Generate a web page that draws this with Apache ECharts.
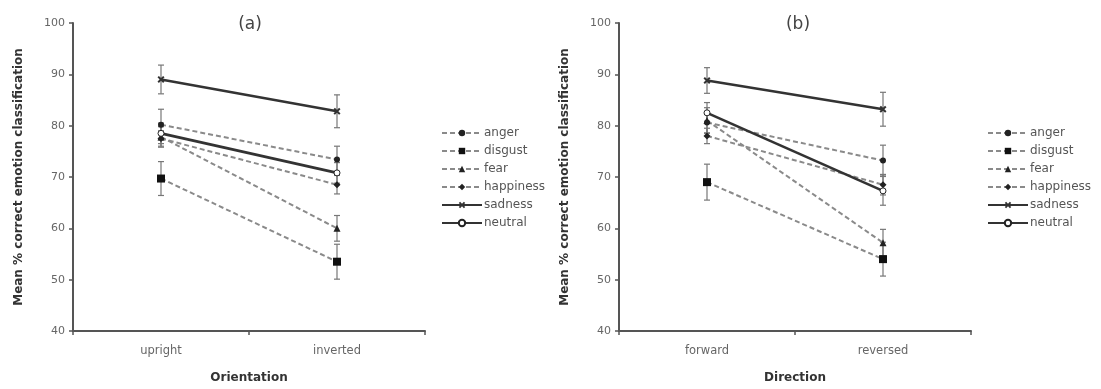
<!DOCTYPE html>
<html>
<head>
<meta charset="utf-8">
<script src="https://cdn.jsdelivr.net/npm/echarts@6/dist/echarts.min.js"></script>
<style>
html,body{margin:0;padding:0;background:#fff;}
#chart{width:1101px;height:389px;}
</style>
</head>
<body>
<div id="chart"></div>
<script>
// categories
var catsA = ['upright', 'inverted'];
var catsB = ['forward', 'reversed'];
var emotions = ['anger', 'disgust', 'fear', 'happiness', 'sadness', 'neutral'];

// means, one row per emotion (same order as emotions)
var meansA = [[80.2, 73.4], [69.7, 53.5], [77.8, 60.0], [77.5, 68.5], [89.0, 82.8], [78.5, 70.8]];
var meansB = [[80.6, 73.2], [69.0, 54.0], [81.0, 57.2], [78.0, 68.5], [88.8, 83.2], [82.5, 67.3]];
// error bar half widths
var errA = [[3.0, 2.6], [3.3, 3.4], [2.0, 2.5], [1.5, 1.8], [2.8, 3.2], [2.0, 2.0]];
var errB = [[2.0, 3.0], [3.5, 3.3], [2.5, 2.6], [1.5, 2.0], [2.5, 3.3], [2.0, 2.8]];

var styles = {
    anger:    {dash: true,  symbol: 'circle',   size: 6, fill: '#222'},
    disgust:  {dash: true,  symbol: 'rect',     size: 8, fill: '#111'},
    fear:     {dash: true,  symbol: 'triangle', size: 7, fill: '#222'},
    happiness:{dash: true,  symbol: 'diamond',  size: 7, fill: '#222'},
    sadness:  {dash: false, symbol: 'path://M2,0L5,3L8,0L10,2L7,5L10,8L8,10L5,7L2,10L0,8L3,5L0,2Z', size: 7, fill: '#333'},
    neutral:  {dash: false, symbol: 'circle',   size: 6, fill: '#fff'}
};

function makeLines(means, gi) {
    return emotions.map(function (name, i) {
        var s = styles[name];
        return {
            name: name,
            type: 'line',
            xAxisIndex: gi,
            yAxisIndex: gi,
            data: means[i],
            symbol: s.symbol,
            symbolSize: s.size,
            z: s.dash ? 3 : 4,
            lineStyle: s.dash
                ? {color: '#8a8a8a', width: 2, type: [5, 3]}
                : {color: '#333', width: 2.6},
            itemStyle: {color: s.fill, borderColor: '#222', borderWidth: name === 'neutral' ? 1 : 0},
            emphasis: {disabled: true},
            animation: false
        };
    });
}

function makeErrors(means, errs, gi) {
    var d = [];
    means.forEach(function (row, i) {
        row.forEach(function (v, j) {
            d.push([j, v - errs[i][j], v + errs[i][j]]);
        });
    });
    return {
        type: 'custom',
        xAxisIndex: gi,
        yAxisIndex: gi,
        data: d,
        z: 2,
        silent: true,
        animation: false,
        renderItem: function (params, api) {
            var lo = api.coord([api.value(0), api.value(1)]);
            var hi = api.coord([api.value(0), api.value(2)]);
            var w = 3;
            var st = {stroke: '#777', lineWidth: 1.2};
            return {
                type: 'group',
                children: [
                    {type: 'line', shape: {x1: lo[0], y1: lo[1], x2: hi[0], y2: hi[1]}, style: st},
                    {type: 'line', shape: {x1: lo[0] - w, y1: lo[1], x2: lo[0] + w, y2: lo[1]}, style: st},
                    {type: 'line', shape: {x1: hi[0] - w, y1: hi[1], x2: hi[0] + w, y2: hi[1]}, style: st}
                ]
            };
        }
    };
}

function yAxis(gi) {
    return {
        gridIndex: gi,
        type: 'value',
        min: 40, max: 100, interval: 10,
        name: 'Mean % correct emotion classification',
        nameLocation: 'middle',
        nameGap: 48,
        nameTextStyle: {fontFamily: 'DejaVu Sans', fontWeight: 'bold', fontSize: 12, color: '#333'},
        axisLine: {show: true, lineStyle: {color: '#555', width: 2}},
        axisTick: {show: true, length: 4, lineStyle: {color: '#555', width: 1.5}},
        axisLabel: {fontFamily: 'DejaVu Sans', fontSize: 11, color: '#666', margin: 8},
        splitLine: {show: false}
    };
}

function xAxis(gi, cats, name) {
    return {
        gridIndex: gi,
        type: 'category',
        data: cats,
        boundaryGap: true,
        name: name,
        nameLocation: 'middle',
        nameGap: 41,
        nameTextStyle: {fontFamily: 'DejaVu Sans', fontWeight: 'bold', fontSize: 12, color: '#333'},
        axisLine: {lineStyle: {color: '#555', width: 2}},
        axisTick: {show: true, length: 4, lineStyle: {color: '#555', width: 1.5}},
        axisLabel: {fontFamily: 'DejaVu Sans', fontSize: 11.5, color: '#666', margin: 14},
        splitLine: {show: false}
    };
}

function legend(left) {
    return {
        left: left,
        top: 121,
        orient: 'vertical',
        itemWidth: 40,
        itemHeight: 8,
        itemGap: 4,
        selectedMode: false,
        data: emotions,
        textStyle: {fontFamily: 'DejaVu Sans', fontSize: 12, lineHeight: 14, color: '#555', padding: [0, 0, 0, -3]}
    };
}

var chart = echarts.init(document.getElementById('chart'), null, {renderer: 'canvas'});
var option = {
    backgroundColor: '#fff',
    animation: false,
    title: [
        {text: '(a)', left: 245, top: 11, textAlign: 'center', textStyle: {fontFamily: 'DejaVu Sans', fontWeight: 'normal', fontSize: 17, color: '#444'}},
        {text: '(b)', left: 793, top: 11, textAlign: 'center', textStyle: {fontFamily: 'DejaVu Sans', fontWeight: 'normal', fontSize: 17, color: '#444'}}
    ],
    grid: [
        {left: 73, top: 23, width: 352, height: 310},
        {left: 619, top: 23, width: 352, height: 310}
    ],
    xAxis: [xAxis(0, catsA, 'Orientation'), xAxis(1, catsB, 'Direction')],
    yAxis: [yAxis(0), yAxis(1)],
    legend: [legend(436), legend(982)],
    series: []
        .concat(makeLines(meansA, 0))
        .concat(makeLines(meansB, 1))
        .concat([makeErrors(meansA, errA, 0), makeErrors(meansB, errB, 1)])
};
chart.setOption(option);
</script>
</body>
</html>
